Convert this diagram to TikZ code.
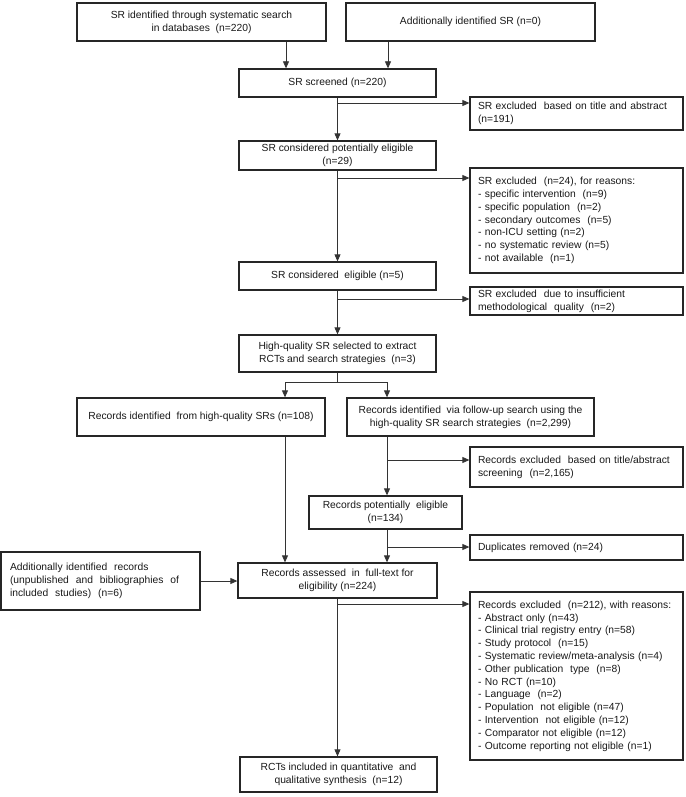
\documentclass[tikz,border=0pt]{standalone}
\usepackage{fontspec}
\setmainfont{Liberation Sans}
\usetikzlibrary{arrows.meta}
\newcommand\myfs{\fontsize{10.3pt}{12.8pt}\selectfont}
\begin{document}
\begin{tikzpicture}[x=1pt,y=-1pt,
  box/.style={draw=black!85, line width=1.3pt, inner sep=0pt, font=\myfs, align=center, text=black!90},
  cbox/.style={box, minimum width=197pt},
  exbox/.style={box, align=left, inner xsep=8pt, text width=197pt},
  link/.style={draw=black!80, line width=0.8pt},
  arr/.style={link, -{Triangle[length=7pt,width=6pt]}}]
\path[fill=white] (0,0) rectangle (685,797);
\useasboundingbox (0,0) rectangle (685,797);

% coordinates for vertical lines and branch heights
\coordinate (xA) at (286,0);
\coordinate (xB) at (388,0);
\coordinate (xC) at (285,0);
\coordinate (xD) at (387,0);
\coordinate (b1) at (0,103);
\coordinate (b2) at (0,178);
\coordinate (b3) at (0,299);
\coordinate (b4) at (0,460);
\coordinate (b5) at (0,547);
\coordinate (b6) at (0,604);
\coordinate (sp) at (0,382);

% nodes
\node[box, minimum width=249pt, minimum height=38pt] (box1) at (201.5,22) {SR identified through systematic search\\in databases \ (n=220)};
\node[box, minimum width=249pt, minimum height=38pt] (box2) at (470.5,22) {Additionally identified SR (n=0)};
\node[cbox, minimum height=28pt] (scr) at (337.5,83) {SR screened (n=220)};
\node[exbox, minimum height=33pt] (ex1) at (576.5,113.5) {SR excluded \ based on title and abstract\\(n=191)};
\node[cbox, minimum height=29pt] (pel) at (337.5,155.5) {SR considered potentially eligible\\(n=29)};
\node[exbox, minimum height=105pt] (ex2) at (576.5,220.5) {SR excluded \ (n=24), for reasons:\\- specific intervention \ (n=9)\\- specific population \ (n=2)\\- secondary outcomes \ (n=5)\\- non-ICU setting (n=2)\\- no systematic review (n=5)\\- not available \ (n=1)};
\node[cbox, minimum height=28pt] (elig) at (337.5,276) {SR considered \ eligible (n=5)};
\node[exbox, minimum height=28pt] (ex3) at (576.5,301) {SR excluded \ due to insufficient\\methodological \ quality \ (n=2)};
\node[cbox, minimum height=37pt] (hq) at (337.5,353.5) {High-quality SR selected to extract\\RCTs and search strategies \ (n=3)};
\node[box, minimum width=248pt, minimum height=38pt] (rec1) at (201,417) {Records identified \ from high-quality SRs (n=108)};
\node[box, minimum width=247pt, minimum height=38pt] (rec2) at (470.5,417) {Records identified \ via follow-up search using the\\high-quality SR search strategies \ (n=2,299)};
\node[exbox, minimum height=40pt] (ex4) at (576.5,467) {Records excluded \ based on title/abstract\\screening \ (n=2,165)};
\node[box, minimum width=153pt, minimum height=33pt] (rpe) at (385.5,512.5) {Records potentially \ eligible\\(n=134)};
\node[exbox, minimum height=25pt] (dup) at (576.5,547.5) {Duplicates removed (n=24)};
\node[box, align=left, inner xsep=9pt, text width=181pt, minimum height=58pt] (add) at (100.5,581) {Additionally identified \ records\\(unpublished \ and \ bibliographies \ of\\included \ studies) \ (n=6)};
\node[box, minimum width=199pt, minimum height=35pt] (ass) at (337.5,580.5) {Records assessed \ in \ full-text for\\eligibility (n=224)};
\node[exbox, minimum height=168pt] (ex5) at (576.5,676) {Records excluded \ (n=212), with reasons:\\- Abstract only (n=43)\\- Clinical trial registry entry (n=58)\\- Study protocol \ (n=15)\\- Systematic review/meta-analysis (n=4)\\- Other publication \ type \ (n=8)\\- No RCT (n=10)\\- Language \ (n=2)\\- Population \ not eligible (n=47)\\- Intervention \ not eligible (n=12)\\- Comparator not eligible (n=12)\\- Outcome reporting not eligible (n=1)};
\node[cbox, minimum height=35pt] (rct) at (338.5,774.5) {RCTs included in quantitative \ and\\qualitative synthesis \ (n=12)};

% connectors
\draw[arr] (box1.south -| xA) -- (scr.north -| xA);
\draw[arr] (box2.south -| xB) -- (scr.north -| xB);
\draw[arr] (scr.south) -- (pel.north);
\draw[arr] (scr.south |- b1) -- (ex1.west |- b1);
\draw[arr] (pel.south) -- (elig.north);
\draw[arr] (pel.south |- b2) -- (ex2.west |- b2);
\draw[arr] (elig.south) -- (hq.north);
\draw[arr] (elig.south |- b3) -- (ex3.west |- b3);
\draw[link] (hq.south) -- (hq.south |- sp);
\draw[arr] (hq.south |- sp) -| (rec1.north -| xC);
\draw[arr] (hq.south |- sp) -| (rec2.north -| xD);
\draw[arr] (rec1.south -| xC) -- (ass.north -| xC);
\draw[arr] (rec2.south -| xD) -- (rpe.north -| xD);
\draw[arr] (xD |- b4) -- (ex4.west |- b4);
\draw[arr] (rpe.south -| xD) -- (ass.north -| xD);
\draw[arr] (xD |- b5) -- (dup.west |- b5);
\draw[arr] (add.east) -- (add.east -| ass.west);
\draw[arr] (ass.south) -- (ass.south |- rct.north);
\draw[arr] (ass.south |- b6) -- (ex5.west |- b6);
\end{tikzpicture}
\end{document}
